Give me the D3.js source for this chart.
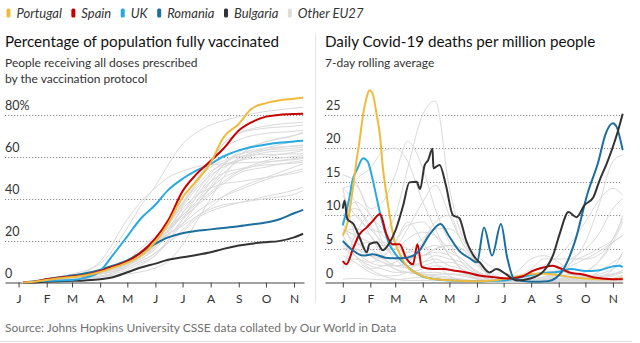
<!DOCTYPE html>
<html>
<head>
<meta charset="utf-8">
<script src="https://cdn.jsdelivr.net/npm/d3@7"></script>
<style>
  body { margin: 0; background: #fff; }
  svg { display: block; }
  text { font-family: Lato, "Open Sans", sans-serif; fill: #333; }
</style>
</head>
<body>
<svg id="chart"></svg>
<script>
// ---- data ----
const legendNames = ['Portugal', 'Spain', 'UK', 'Romania', 'Bulgaria', 'Other EU27'];
const legendColors = ['#eebb3c', '#c70000', '#27a9e1', '#1b6e9d', '#333333', '#dcdcdc'];
const monthLabels = ['J', 'F', 'M', 'A', 'M', 'J', 'J', 'A', 'S', 'O', 'N'];
const monthStarts = ['2021-01-01', '2021-02-01', '2021-03-01', '2021-04-01', '2021-05-01', '2021-06-01',
  '2021-07-01', '2021-08-01', '2021-09-01', '2021-10-01', '2021-11-01'];
const vaxTicks = [0, 20, 40, 60, 80];
const deathTicks = [0, 5, 10, 15, 20, 25];

// % fully vaccinated, highlighted countries
const vaxDates = ['2021-01-06', '2021-01-15', '2021-02-01', '2021-02-15', '2021-03-01', '2021-03-15', '2021-04-01',
  '2021-04-15', '2021-05-01', '2021-05-15', '2021-06-01', '2021-06-15', '2021-07-01', '2021-07-15', '2021-08-01',
  '2021-08-15', '2021-09-01', '2021-09-15', '2021-10-01', '2021-10-15', '2021-11-01', '2021-11-11'];
const portugalVax = [0, 0.2, 1.2, 2, 2.6, 3.3, 5, 7, 9.5, 12.5, 19.4, 28, 40.6, 47.8, 57, 69, 75.5, 82.7, 85.4, 86.7, 87.5, 88];
const spainVax = [0, 0.2, 1.5, 2.3, 2.8, 3.5, 5.5, 7.5, 10, 14, 21, 29.5, 43.5, 51, 58, 63.7, 72.4, 76.3, 79, 79.8, 80.2, 80.3];
const ukVax = [0, 0.5, 0.8, 0.9, 1.2, 2.2, 5.5, 13, 22, 30, 37, 44, 49.4, 53, 56.5, 60, 62.9, 64.5, 65.7, 66.5, 67.2, 67.5];
const romaniaVax = [0, 0.1, 1.5, 2.5, 3.3, 4.3, 6, 8, 10.5, 14, 18.5, 21.5, 23.5, 24.5, 25.3, 26, 26.8, 27.6, 28.6, 30, 33, 34.6];
const bulgariaVax = [0, 0, 0.3, 0.6, 0.8, 1, 1.5, 2.5, 4.9, 7, 9, 10.8, 12, 13, 14.4, 16, 17.6, 18.5, 19.2, 19.7, 21.5, 23.2];

// % fully vaccinated, other EU27 countries
const otherVaxDates = ['2021-01-05', '2021-01-15', '2021-02-01', '2021-03-01', '2021-04-01', '2021-05-01', '2021-05-15',
  '2021-06-01', '2021-06-15', '2021-07-01', '2021-07-15', '2021-08-01', '2021-08-15', '2021-09-01', '2021-10-01',
  '2021-11-01', '2021-11-11'];
const otherVax = [
  [0, 0.3, 1.5, 4, 9, 26, 36, 46, 56, 66, 71, 75, 77, 79, 81.5, 83, 83.5],
  [0, 0.3, 1.5, 3, 10, 30, 38, 45, 50, 53, 55, 56, 56.5, 57, 57.5, 58.5, 59],
  [0, 0.2, 1.5, 3.5, 6, 9, 12, 19, 27, 37, 47, 58, 66, 71, 74.5, 76, 76.3],
  [0, 0.2, 1, 3, 5, 9, 12, 19, 28, 37, 46, 57, 66, 71, 73.5, 74.5, 75],
  [0, 0.1, 0.8, 2.5, 5, 9, 12, 18, 27, 38, 48, 58, 64, 68, 71, 72, 72.5],
  [0, 0.1, 0.8, 2, 3, 4, 5, 7, 10, 18, 28, 40, 50, 60, 67, 70, 71],
  [0, 0.3, 1.5, 2.5, 5, 10, 14, 20, 26, 32, 38, 48, 56, 62, 67, 70, 71.6],
  [0, 0, 0.5, 2.5, 4.5, 9, 13, 18, 22, 30, 36, 46, 54, 59, 64, 67, 67.6],
  [0, 0, 0.3, 1.5, 3, 6, 9, 13, 20, 30, 40, 50, 56, 61, 64, 65, 65.5],
  [0, 0.1, 0.8, 1.5, 4, 7, 10, 14, 20, 28, 36, 45, 52, 58, 63, 65, 65.2],
  [0, 0.1, 0.8, 2, 4, 8, 12, 18, 28, 40, 48, 55, 58, 61, 63, 64, 64.4],
  [0, 0.3, 1.5, 3, 5.5, 8.5, 11, 17, 25, 36, 44, 51, 55, 58, 62, 63, 63.5],
  [0, 0.1, 1, 2.5, 5, 9, 13, 20, 28, 38, 45, 53, 56, 58, 60, 62, 62.9],
  [0, 0.1, 1, 2.5, 5, 8, 11, 16, 23, 33, 42, 52, 57, 60, 61, 61.2, 61.3],
  [0, 0.3, 1.5, 3, 5, 10, 16, 22, 27, 32, 37, 43, 48, 53, 58, 60, 60.5],
  [0, 0.2, 1.2, 2.5, 4.5, 9, 13, 18, 25, 32, 38, 45, 50, 53, 57, 59, 59.7],
  [0, 0.5, 2, 3.5, 5, 9, 12, 18, 25, 31, 36, 42, 47, 52, 55, 57.5, 58.1],
  [0, 0.2, 1, 2.5, 4, 8, 12, 17, 24, 33, 40, 48, 52, 54, 56, 56.8, 57.3],
  [0, 0.1, 0.8, 1.5, 2.5, 5, 8, 13, 19, 25, 31, 36, 41, 45, 50, 55, 56.5],
  [0, 0.5, 1.8, 3.5, 5, 9, 13, 18, 23, 28, 33, 38, 41, 44, 49, 53, 54.1],
  [0, 0.2, 1.5, 3, 5, 10, 14, 19, 25, 35, 41, 45, 47, 48, 50, 52, 53],
  [0, 0.1, 0.8, 1.5, 3, 7, 10, 14, 19, 24, 30, 34, 36, 38, 41, 44, 45.4],
  [0, 0.2, 1, 2, 4, 8, 12, 18, 23, 27, 31, 35, 37, 38, 40, 42, 43.8]
];

// daily deaths per million, 7-day average, highlighted countries [date, value]
const portugalDeaths = [['2021-01-01', 7.0], ['2021-01-07', 9.3], ['2021-01-12', 13.7], ['2021-01-16', 17.7],
  ['2021-01-20', 21.2], ['2021-01-24', 25.1], ['2021-01-28', 27.6], ['2021-01-31', 28.6], ['2021-02-04', 27.9],
  ['2021-02-08', 25.1], ['2021-02-12', 21.7], ['2021-02-15', 17.2], ['2021-02-19', 13.3], ['2021-02-23', 9.8],
  ['2021-02-28', 6.3], ['2021-03-06', 4.3], ['2021-03-13', 2.6], ['2021-03-25', 1.4], ['2021-04-09', 0.6],
  ['2021-05-05', 0.3], ['2021-06-01', 0.2], ['2021-06-20', 0.3], ['2021-07-05', 0.6], ['2021-07-20', 1.0],
  ['2021-08-01', 1.3], ['2021-08-15', 1.3], ['2021-09-01', 1.1], ['2021-09-15', 0.8], ['2021-10-01', 0.6],
  ['2021-10-15', 0.5], ['2021-11-01', 0.5], ['2021-11-12', 0.6]];
const spainDeaths = [['2021-01-01', 3.2], ['2021-01-05', 2.7], ['2021-01-13', 5.2], ['2021-01-20', 7.2],
  ['2021-01-28', 8.2], ['2021-02-04', 9.2], ['2021-02-12', 10.2], ['2021-02-19', 7.2], ['2021-02-26', 5.7],
  ['2021-03-06', 5.7], ['2021-03-13', 3.7], ['2021-03-21', 2.7], ['2021-03-26', 5.7], ['2021-03-31', 2.3],
  ['2021-04-12', 2.0], ['2021-04-25', 2.0], ['2021-05-05', 1.8], ['2021-05-20', 1.5], ['2021-06-05', 1.0],
  ['2021-06-20', 0.8], ['2021-07-05', 0.6], ['2021-07-22', 0.9], ['2021-08-02', 1.7], ['2021-08-14', 2.2],
  ['2021-08-25', 2.5], ['2021-09-01', 2.2], ['2021-09-13', 1.5], ['2021-09-28', 1.2], ['2021-10-13', 0.7],
  ['2021-11-01', 0.5], ['2021-11-12', 0.5]];
const ukDeaths = [['2021-01-01', 8.5], ['2021-01-08', 12.3], ['2021-01-12', 15.2], ['2021-01-17', 16.8],
  ['2021-01-24', 18.5], ['2021-01-29', 18.0], ['2021-02-03', 15.7], ['2021-02-07', 13.3], ['2021-02-12', 10.3],
  ['2021-02-17', 7.8], ['2021-02-22', 5.8], ['2021-03-01', 4.3], ['2021-03-10', 3.0], ['2021-03-20', 1.8],
  ['2021-04-01', 0.9], ['2021-04-15', 0.5], ['2021-05-01', 0.3], ['2021-06-01', 0.2], ['2021-07-01', 0.3],
  ['2021-07-15', 0.6], ['2021-08-01', 1.1], ['2021-08-15', 1.4], ['2021-09-01', 1.6], ['2021-09-15', 2.0],
  ['2021-10-01', 1.7], ['2021-10-15', 1.8], ['2021-11-01', 2.4], ['2021-11-08', 2.5], ['2021-11-12', 2.3]];
const romaniaDeaths = [['2021-01-01', 6.2], ['2021-01-12', 4.8], ['2021-01-24', 4.0], ['2021-02-04', 4.2],
  ['2021-02-18', 3.7], ['2021-03-01', 3.6], ['2021-03-14', 3.7], ['2021-03-28', 4.7], ['2021-04-08', 7.0],
  ['2021-04-21', 8.7], ['2021-05-01', 6.8], ['2021-05-12', 4.7], ['2021-05-24', 3.6], ['2021-06-01', 3.0],
  ['2021-06-09', 8.2], ['2021-06-18', 4.0], ['2021-06-28', 8.7], ['2021-07-05', 3.7], ['2021-07-13', 0.5],
  ['2021-08-01', 0.1], ['2021-08-20', 0.2], ['2021-09-05', 1.7], ['2021-09-19', 6.0], ['2021-10-04', 13.5],
  ['2021-10-15', 17.7], ['2021-10-24', 22.2], ['2021-11-01', 23.7], ['2021-11-05', 23.2], ['2021-11-12', 19.7]];
const bulgariaDeaths = [['2021-01-01', 11.0], ['2021-01-03', 12.2], ['2021-01-06', 9.5], ['2021-01-13', 8.7],
  ['2021-01-20', 6.7], ['2021-01-28', 4.5], ['2021-01-31', 5.7], ['2021-02-08', 6.0], ['2021-02-15', 4.8],
  ['2021-02-23', 6.0], ['2021-03-02', 8.0], ['2021-03-10', 11.5], ['2021-03-17', 14.9], ['2021-03-25', 15.0],
  ['2021-03-29', 13.9], ['2021-04-03', 17.4], ['2021-04-07', 18.2], ['2021-04-12', 19.9], ['2021-04-13', 17.0],
  ['2021-04-20', 17.5], ['2021-04-27', 14.5], ['2021-05-05', 10.0], ['2021-05-12', 9.6], ['2021-05-20', 6.2],
  ['2021-05-31', 3.5], ['2021-06-04', 3.0], ['2021-06-15', 1.5], ['2021-06-23', 2.0], ['2021-07-04', 1.2],
  ['2021-07-16', 0.3], ['2021-07-31', 0.6], ['2021-08-15', 1.7], ['2021-08-26', 4.2], ['2021-09-02', 7.2],
  ['2021-09-12', 10.5], ['2021-09-21', 9.7], ['2021-09-30', 11.5], ['2021-10-10', 12.7], ['2021-10-17', 15.2],
  ['2021-10-25', 17.7], ['2021-11-01', 20.2], ['2021-11-07', 22.7], ['2021-11-12', 25.1]];

// daily deaths per million, other EU27 countries
const otherDeathDates = ['2021-01-01', '2021-01-15', '2021-02-01', '2021-02-15', '2021-03-01', '2021-03-15',
  '2021-04-01', '2021-04-15', '2021-05-01', '2021-05-15', '2021-06-01', '2021-06-15', '2021-07-01', '2021-07-15',
  '2021-08-01', '2021-08-15', '2021-09-01', '2021-09-15', '2021-10-01', '2021-10-15', '2021-11-01', '2021-11-12'];
const otherDeaths = [
  [14, 14.5, 11, 12, 16, 21, 17, 11, 6, 3, 1.2, 0.5, 0.3, 0.2, 0.2, 0.2, 0.2, 0.3, 0.4, 0.7, 2, 4.5],
  [9, 15, 17, 19.5, 20, 18, 12, 8, 4, 2, 0.6, 0.3, 0.2, 0.1, 0.1, 0.2, 0.5, 0.8, 1.6, 3, 6, 9],
  [13, 10, 8, 7.5, 10, 17, 25, 27, 14, 7, 3, 1, 0.4, 0.2, 0.1, 0.1, 0.2, 0.5, 1.5, 3, 6.5, 9.5],
  [16, 15, 10, 8, 6, 4, 4, 4.5, 4, 2, 1, 0.5, 0.2, 0.1, 0.2, 0.5, 1.2, 3, 4, 5, 6.5, 10],
  [14, 12, 8, 6, 4, 3.5, 4, 5, 5.5, 5, 2.5, 1.2, 0.7, 0.8, 1.5, 2.5, 4, 6, 9, 12, 14, 13],
  [9, 12, 10, 7, 6, 5, 4, 5, 5.5, 5, 3, 1.5, 0.6, 0.3, 0.3, 0.5, 1, 3, 6, 11, 18, 19],
  [14, 7, 4, 3, 2.5, 3, 6, 9, 10, 6, 3, 1, 0.3, 0.3, 0.5, 0.8, 2, 3.5, 5, 7, 11, 12.5],
  [8, 7, 6, 5.5, 5.5, 8, 12, 14.5, 10, 6, 3, 1, 0.5, 0.3, 0.2, 0.2, 0.3, 0.4, 0.7, 1.5, 3, 4],
  [7, 4, 2, 2.5, 3, 4.5, 6.5, 8, 8, 6.5, 4, 2.5, 1.5, 1, 2, 3.5, 3.5, 3.5, 3.5, 4, 6, 7],
  [7.5, 8, 7, 5, 5, 6.5, 7.5, 7, 5, 3.5, 1.7, 1, 0.6, 0.3, 0.4, 0.8, 0.9, 0.9, 0.7, 0.6, 0.6, 0.9],
  [5.5, 5, 4, 3.5, 2.5, 2.2, 3, 4, 3.5, 3, 1.5, 0.8, 0.3, 0.2, 0.4, 0.5, 0.6, 0.8, 0.8, 0.8, 1.2, 1.8],
  [5, 5.5, 6, 6, 5, 4.5, 5, 5.5, 4.5, 3.5, 1.5, 0.8, 0.5, 0.4, 0.8, 1.5, 1.7, 1.2, 0.8, 0.5, 0.5, 0.6],
  [10, 11, 8.5, 5.5, 4, 2.5, 2.5, 3, 3, 2.5, 1.3, 0.7, 0.4, 0.2, 0.2, 0.2, 0.4, 0.6, 0.7, 0.8, 1.2, 1.8],
  [9, 5, 3, 2.5, 2.5, 2.5, 3, 3.5, 2.5, 2, 0.8, 0.3, 0.2, 0.1, 0.1, 0.2, 0.5, 0.8, 1, 1.2, 2, 3],
  [5, 5, 4, 3, 2, 1.5, 1.2, 1.2, 1.3, 1.2, 0.6, 0.3, 0.1, 0.1, 0.3, 0.5, 0.4, 0.3, 0.3, 0.3, 0.6, 1.1],
  [2, 7, 10, 6, 3.5, 2, 1.2, 0.8, 0.6, 0.4, 0.3, 0.2, 0.2, 0.2, 0.5, 0.8, 1, 1.2, 1, 1, 1.3, 1.5],
  [9, 10, 7, 4, 2, 1.5, 1.5, 1.5, 1.2, 1, 0.5, 0.3, 0.1, 0.1, 0.1, 0.1, 0.2, 0.3, 0.2, 0.2, 0.2, 0.2],
  [5, 4, 2, 1, 0.5, 0.3, 0.3, 0.3, 0.3, 0.3, 0.2, 0.1, 0.1, 0.1, 0.1, 0.2, 0.2, 0.2, 0.2, 0.3, 0.5, 0.8],
  [3, 3.5, 3, 4, 6, 8.5, 9, 7, 4, 2, 1, 0.5, 0.2, 0.1, 0.3, 0.8, 1.5, 2.5, 3.5, 4.5, 6, 7],
  [6, 4, 2.5, 2, 1.5, 1.5, 1.3, 1, 0.8, 0.5, 0.2, 0.1, 0.1, 0.1, 0.2, 0.1, 0.2, 0.2, 0.2, 0.3, 0.5, 0.7],
  [4, 3, 1.5, 1, 1, 1.5, 2, 2.5, 2, 1.5, 0.5, 0.3, 0.5, 1.5, 3.5, 4, 3, 1.5, 0.8, 0.5, 1, 1.5],
  [0.5, 0.6, 0.5, 0.4, 0.4, 0.6, 0.8, 0.6, 0.4, 0.3, 0.2, 0.1, 0.1, 0.1, 0.1, 0.2, 0.3, 0.4, 0.4, 0.3, 0.4, 0.5],
  [8, 6, 5, 4, 6, 9, 6, 3, 1, 0.3, 0.2, 0.1, 0.1, 0.2, 0.8, 1.5, 1, 0.5, 0.3, 0.2, 0.3, 0.5]
];

// ---- drawing ----
const parse = d3.timeParse('%Y-%m-%d');
const W = 640, H = 343;
const $svg = d3.select('#chart').attr('width', W).attr('height', H);

// legend, laid out left to right
let lx = 6.5;
legendNames.forEach((name, i) => {
  $svg.append('rect')
    .attr('x', lx).attr('y', 8.5)
    .attr('width', 4).attr('height', 9).attr('rx', 1.5)
    .attr('fill', legendColors[i]);
  const t = $svg.append('text')
    .attr('x', lx + 10).attr('y', 17.5)
    .attr('font-size', 13).attr('font-style', 'italic')
    .text(name);
  lx += 10 + t.node().getComputedTextLength() + 9.5;
});

// panel divider + bottom rule
$svg.append('line').attr('x1', 315.5).attr('x2', 315.5).attr('y1', 33).attr('y2', 303)
  .attr('stroke', '#e3e3e3');
$svg.append('line').attr('x1', 0).attr('x2', 632).attr('y1', 341.5).attr('y2', 341.5)
  .attr('stroke', '#dcdcdc');

$svg.append('text').attr('x', 5).attr('y', 332).attr('font-size', 12).style('fill', '#707070')
  .text('Source: Johns Hopkins University CSSE data collated by Our World in Data');

const drawPanel = (opts) => {
  const g = $svg.append('g');
  g.append('text').attr('x', opts.x0).attr('y', 47)
    .attr('font-family', '"Liberation Serif", serif').attr('font-size', 15.2)
    .style('fill', '#121212')
    .text(opts.title);
  opts.sub.forEach((s, i) => {
    g.append('text').attr('x', opts.x0).attr('y', 67 + i * 16)
      .attr('font-size', 12).text(s);
  });

  // gridlines and y labels
  opts.ticks.forEach((v) => {
    if (v > 0) {
      g.append('line')
        .attr('x1', opts.x0).attr('x2', opts.gridEnd)
        .attr('y1', Math.round(opts.y(v)) + 0.5).attr('y2', Math.round(opts.y(v)) + 0.5)
        .attr('stroke', '#8a8a8a').attr('stroke-dasharray', '1.2,1.8');
    }
    g.append('text').attr('x', opts.x0 + (opts.labelDx || 0)).attr('y', opts.y(v) - 5)
      .attr('font-size', 12.5).text(v + (v === opts.ticks[opts.ticks.length - 1] && opts.pct ? '%' : ''));
  });

  // x axis
  const axis = g.append('g')
    .attr('transform', 'translate(0,' + opts.y(0) + ')')
    .call(d3.axisBottom(opts.x)
      .tickValues(monthStarts.map(parse))
      .tickFormat((d, i) => monthLabels[i])
      .tickSizeInner(5).tickSizeOuter(0).tickPadding(7));
  axis.select('.domain').attr('stroke', '#444');
  axis.selectAll('.tick line').attr('stroke', '#444');
  axis.selectAll('.tick text').attr('font-size', 12).attr('font-family', 'Lato, sans-serif').style('fill', '#333');

  const line = d3.line()
    .x((d) => opts.x(d[0]))
    .y((d) => opts.y(d[1]))
    .curve(d3.curveMonotoneX);

  opts.others.forEach((row) => {
    g.append('path').datum(row).attr('d', line)
      .attr('fill', 'none').attr('stroke', '#dadada').attr('stroke-width', 1);
  });
  opts.series.forEach((s) => {
    g.append('path').datum(s.data).attr('d', line)
      .attr('fill', 'none').attr('stroke', s.color).attr('stroke-width', 2)
      .attr('stroke-linejoin', 'round');
  });
};

const colorOf = (name) => legendColors[legendNames.indexOf(name)];
const zipDates = (dates, vals) => vals.map((v, i) => [parse(dates[i]), v]);
const pairs = (arr) => arr.map((p) => [parse(p[0]), p[1]]);

drawPanel({
  x0: 5, gridEnd: 304, pct: true,
  title: 'Percentage of population fully vaccinated',
  sub: ['People receiving all doses prescribed', 'by the vaccination protocol'],
  ticks: vaxTicks,
  x: d3.scaleTime().domain([parse('2020-12-17'), parse('2021-11-12')]).range([5, 304]),
  y: d3.scaleLinear().domain([0, 80]).range([282.5, 114.5]),
  others: otherVax.map((row) => zipDates(otherVaxDates, row)),
  series: [
    { color: colorOf('Bulgaria'), data: zipDates(vaxDates, bulgariaVax) },
    { color: colorOf('Romania'), data: zipDates(vaxDates, romaniaVax) },
    { color: colorOf('UK'), data: zipDates(vaxDates, ukVax) },
    { color: colorOf('Spain'), data: zipDates(vaxDates, spainVax) },
    { color: colorOf('Portugal'), data: zipDates(vaxDates, portugalVax) }
  ]
});

drawPanel({
  x0: 325, gridEnd: 622, labelDx: 1, pct: false,
  title: 'Daily Covid-19 deaths per million people',
  sub: ['7-day rolling average'],
  ticks: deathTicks,
  x: d3.scaleTime().domain([parse('2020-12-12'), parse('2021-11-12')]).range([325, 622.7]),
  y: d3.scaleLinear().domain([0, 25]).range([282.5, 114.5]),
  others: otherDeaths.map((row) => zipDates(otherDeathDates, row)),
  series: [
    { color: colorOf('UK'), data: pairs(ukDeaths) },
    { color: colorOf('Portugal'), data: pairs(portugalDeaths) },
    { color: colorOf('Spain'), data: pairs(spainDeaths) },
    { color: colorOf('Romania'), data: pairs(romaniaDeaths) },
    { color: colorOf('Bulgaria'), data: pairs(bulgariaDeaths) }
  ]
});
</script>
</body>
</html>
